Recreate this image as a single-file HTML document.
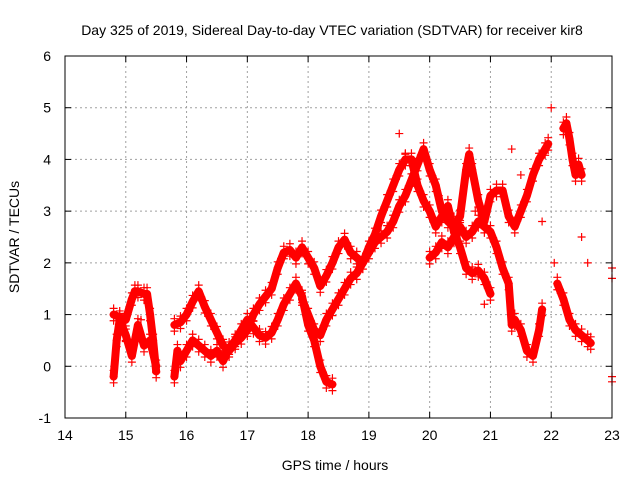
<!DOCTYPE html>
<html><head><meta charset="utf-8"><style>
body{margin:0;background:#fff}
svg{display:block;font-family:"Liberation Sans",sans-serif}
</style></head><body>
<svg id="chart" width="640" height="480">
<text x="332" y="35" text-anchor="middle" font-size="14">Day 325 of 2019, Sidereal Day-to-day VTEC variation (SDTVAR) for receiver kir8</text>
<text x="335" y="470" text-anchor="middle" font-size="14">GPS time / hours</text>
<text transform="translate(19,237) rotate(-90)" text-anchor="middle" font-size="14">SDTVAR / TECUs</text>
<g id="grid"></g><g id="marks"></g>
<rect x="65" y="56" width="547" height="362" fill="none" stroke="#000" stroke-width="1"/>
</svg>
<script>
const xTicks=[14,15,16,17,18,19,20,21,22,23];
const yTicks=[-1,0,1,2,3,4,5,6];
const trackA_t=[14.8,14.9,15.0,15.1,15.15,15.2,15.3,15.35,15.4,15.45,15.5];
const trackA_v=[1.0,0.95,0.9,1.3,1.45,1.45,1.4,1.4,1.0,0.5,-0.1];
const trackB_t=[14.8,14.85,14.9,15.0,15.1,15.2,15.3,15.4,15.5];
const trackB_v=[-0.2,0.5,0.9,0.6,0.2,0.8,0.4,0.5,0.0];
const trackC_t=[15.8,15.9,16.0,16.1,16.2,16.3,16.4,16.5,16.6,16.7,16.8,16.9,17.0,17.1,17.2,17.3,17.4,17.5,17.6,17.7,17.8,17.9,18.0,18.1,18.2,18.3,18.4,18.5,18.6,18.7,18.8,18.9,19.0,19.1,19.2,19.3,19.4,19.5,19.6,19.7,19.8,19.9,20.0,20.1,20.2,20.3,20.4,20.5,20.6,20.7,20.8,20.9,21.0];
const trackC_v=[0.8,0.85,1.0,1.25,1.45,1.15,0.9,0.65,0.4,0.3,0.45,0.55,0.7,1.0,1.2,1.35,1.5,1.9,2.2,2.25,2.1,2.3,2.1,1.9,1.55,1.75,2.0,2.3,2.45,2.2,2.1,2.0,2.3,2.55,2.9,3.2,3.5,3.8,4.0,4.0,3.5,3.2,3.0,2.7,2.9,3.1,2.6,2.3,1.9,1.8,1.85,1.7,1.4];
const trackD_t=[15.8,15.85,15.9,16.0,16.1,16.2,16.3,16.4,16.5,16.6,16.7,16.8,16.9,17.0,17.1,17.2,17.3,17.4,17.5,17.6,17.7,17.8,17.9,18.0,18.1,18.2,18.3,18.4];
const trackD_v=[-0.2,0.3,0.1,0.3,0.5,0.4,0.3,0.2,0.3,0.1,0.35,0.5,0.7,0.9,0.75,0.6,0.55,0.65,0.9,1.2,1.4,1.6,1.35,0.8,0.5,0.0,-0.3,-0.35];
const trackE_t=[17.9,18.0,18.1,18.2,18.3,18.4,18.5,18.6,18.7,18.8,18.9,19.0,19.1,19.2,19.3,19.4,19.5,19.6,19.7,19.8,19.9,20.0,20.1,20.2,20.3,20.4,20.5,20.6,20.65,20.7,20.8,20.9,21.0,21.1,21.2,21.3,21.4,21.5,21.6,21.7,21.8,21.9,21.95];
const trackE_v=[1.3,1.0,0.7,0.6,0.9,1.1,1.3,1.5,1.7,1.8,2.0,2.2,2.4,2.5,2.6,2.8,3.1,3.3,3.6,3.9,4.2,3.8,3.5,3.0,2.8,2.7,2.9,3.8,4.1,3.8,3.2,2.8,3.3,3.4,3.4,2.9,2.7,3.0,3.3,3.7,4.0,4.2,4.3];
const trackF_t=[20.0,20.1,20.2,20.3,20.4,20.5,20.6,20.7,20.8,20.9,21.0,21.1,21.2,21.3,21.35,21.4,21.5,21.6,21.7,21.8,21.85];
const trackF_v=[2.1,2.2,2.4,2.3,2.5,2.7,2.5,2.6,2.8,2.7,2.6,2.3,1.9,1.6,0.8,0.9,0.7,0.3,0.2,0.7,1.1];
const trackG_t=[22.2,22.25,22.3,22.35,22.4,22.45,22.5];
const trackG_v=[4.6,4.7,4.4,4.0,3.7,3.9,3.7];
const trackH_t=[22.1,22.2,22.3,22.4,22.5,22.6,22.65];
const trackH_v=[1.6,1.3,0.9,0.7,0.6,0.5,0.45];
const scatter_t=[22.0,22.05,22.5,22.6,23.0,23.0,23.0,23.0,20.9,21.85,19.5,19.6,20.15,20.4,20.75,21.35,21.5,15.0,15.25,16.6,18.05,19.2];
const scatter_v=[5.0,2.0,2.5,2.0,1.9,1.7,-0.2,-0.3,1.2,2.8,4.5,4.1,3.3,2.9,3.0,4.2,3.7,0.5,0.9,0.3,0.8,2.9];
const X0=65,X1=612,Y0=418,Y1=56;
const xs=t=>X0+(t-14)/(23-14)*(X1-X0);
const ys=v=>Y0-(v+1)/7*(Y0-Y1);
const NS='http://www.w3.org/2000/svg';
const svg=document.getElementById('chart'),grid=document.getElementById('grid'),marks=document.getElementById('marks');
function mk(tag,attrs,parent){const e=document.createElementNS(NS,tag);for(const k in attrs)e.setAttribute(k,attrs[k]);parent.appendChild(e);return e;}
xTicks.forEach(t=>{const x=xs(t);
 if(t>14&&t<23){const g=mk('line',{x1:x,x2:x,y1:Y1,y2:Y0,stroke:'#a0a0a0','stroke-dasharray':'2,3'},grid);
 
 }
 mk('line',{x1:x,x2:x,y1:Y0,y2:Y0-6,stroke:'#000'},grid);mk('line',{x1:x,x2:x,y1:Y1,y2:Y1+6,stroke:'#000'},grid);
 const l=mk('text',{x:x,y:Y0+22,'text-anchor':'middle','font-size':14},grid);l.textContent=t;
 
 });
yTicks.forEach(v=>{const y=ys(v);
 if(v>-1&&v<6){const g=mk('line',{x1:X0,x2:X1,y1:y,y2:y,stroke:'#a0a0a0','stroke-dasharray':'2,3'},grid);
 
 }
 mk('line',{x1:X0,x2:X0+6,y1:y,y2:y,stroke:'#000'},grid);mk('line',{x1:X1,x2:X1-6,y1:y,y2:y,stroke:'#000'},grid);
 const l=mk('text',{x:X0-14,y:y+5,'text-anchor':'end','font-size':14},grid);l.textContent=v;
 
 });
function plus(t,v){const x=xs(t),y=ys(v);
 const p=mk('path',{d:`M${x-4},${y}H${x+4}M${x},${y-4}V${y+4}`,stroke:'#f00','stroke-width':1.2,fill:'none'},marks);
 
 }
const tracks=[[trackA_t,trackA_v],[trackB_t,trackB_v],[trackC_t,trackC_v],[trackD_t,trackD_v],[trackE_t,trackE_v],[trackF_t,trackF_v],[trackG_t,trackG_v],[trackH_t,trackH_v]];
tracks.forEach(([T,V],i)=>{
 const pl=mk('polyline',{points:T.map((t,j)=>xs(t)+','+ys(V[j])).join(' '),fill:'none',stroke:'#f00','stroke-width':8,'stroke-linejoin':'round','stroke-linecap':'round'},marks);
 
 
 T.forEach((t,j)=>{plus(t,V[j]);plus(t,V[j]+0.12);plus(t,V[j]-0.12);});
});
scatter_t.forEach((t,j)=>plus(t,scatter_v[j]));
</script>
</body></html>
